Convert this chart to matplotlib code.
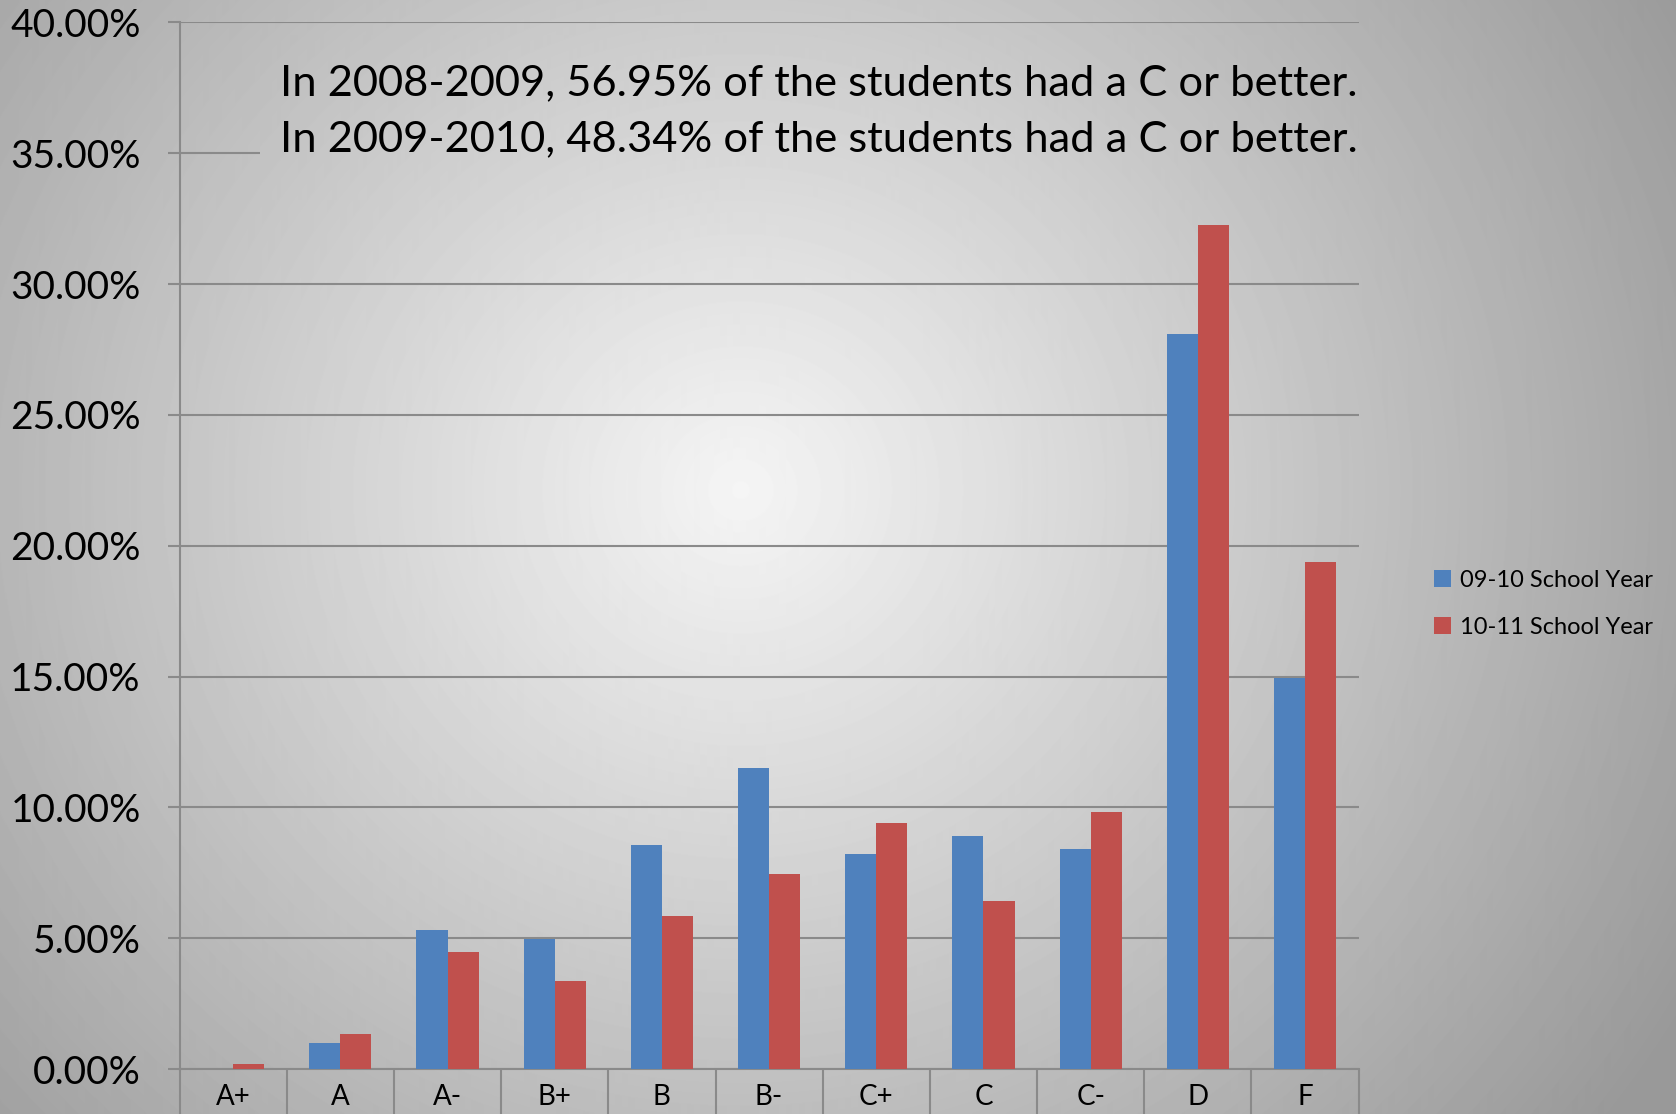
import numpy as np
import matplotlib
matplotlib.use("Agg")
import matplotlib.pyplot as plt
from matplotlib.ticker import FuncFormatter, FixedLocator

plt.rcParams['font.family'] = ['Lato', 'DejaVu Sans']

# Grade distribution (percent of students)
grades = ["A+", "A", "A-", "B+", "B", "B-", "C+", "C", "C-", "D", "F"]
year_0910 = [0.0, 1.0, 5.31, 4.98, 8.58, 11.52, 8.21, 8.91, 8.42, 28.10, 14.95]
year_1011 = [0.19, 1.35, 4.49, 3.35, 5.84, 7.44, 9.40, 6.41, 9.81, 32.27, 19.37]
series_names = ["09-10 School Year", "10-11 School Year"]
note_lines = ["In 2008-2009, 56.95% of the students had a C or better.",
              "In 2009-2010, 48.34% of the students had a C or better."]

W, H = 1676, 1114
fig = plt.figure(figsize=(W / 100, H / 100), dpi=100)

# radial gray gradient background
yy, xx = np.mgrid[0:H, 0:W]
r = np.sqrt(((xx - 740) / 1.0) ** 2 + ((yy - 490) / 0.95) ** 2)
grad = np.clip(0.96 - 0.33 * (r / 1000.0), 0.6, 0.96)

bg = fig.add_axes([0, 0, 1, 1], zorder=-10)
bg.imshow(grad, cmap="gray", vmin=0, vmax=1, extent=[0, 1, 0, 1], aspect="auto")
bg.axis("off")

left, right = 179.6 / W, 1358.6 / W
bottom, top = 1 - 1069 / H, 1 - 22.4 / H
ax = fig.add_axes([left, bottom, right - left, top - bottom])
ax.patch.set_alpha(0)

grid_col = "#8a8a8a"
x = np.arange(len(grades))
bw = 0.29
ax.bar(x - bw / 2, year_0910, bw, color="#4F81BD", label=series_names[0], zorder=3)
ax.bar(x + bw / 2, year_1011, bw, color="#C0504D", label=series_names[1], zorder=3)

ax.set_ylim(0, 40)
ax.set_xlim(-0.5, len(grades) - 0.5)
ax.set_yticks(np.arange(0, 41, 5))
ax.yaxis.set_major_formatter(FuncFormatter(lambda v, p: f"{v:.2f}%"))
ax.yaxis.grid(True, color=grid_col, linewidth=1.5, zorder=0)
ax.tick_params(axis="y", length=9, width=1.5, color=grid_col, labelsize=28, pad=19)

ax.set_xticks(x)
ax.set_xticklabels(grades)
ax.tick_params(axis="x", which="major", length=0, labelsize=20, pad=11)
ax.xaxis.set_minor_locator(FixedLocator(np.arange(-0.5, len(grades), 1)))
ax.tick_params(axis="x", which="minor", length=34, width=1.5, color=grid_col)

for s in ["top", "right"]:
    ax.spines[s].set_visible(False)
for s in ["left", "bottom"]:
    ax.spines[s].set_color(grid_col)
    ax.spines[s].set_linewidth(1.5)

# text box covering gridlines behind the note
bx0, bx1, by0, by1 = 260, 1358, 35, 200
box = fig.add_axes([bx0 / W, 1 - by1 / H, (bx1 - bx0) / W, (by1 - by0) / H], zorder=5)
box.imshow(grad[by0:by1, bx0:bx1], cmap="gray", vmin=0, vmax=1, aspect="auto")
box.axis("off")

fig.text(280 / W, 1 - 64 / H, "\n".join(note_lines), fontsize=31.3, va="top",
         ha="left", linespacing=1.58, zorder=10)

handles, labels = ax.get_legend_handles_labels()
fig.legend(handles, labels, loc="center left", bbox_to_anchor=(1413 / W, 1 - 604 / H),
           frameon=False, fontsize=17, handlelength=0.7, handleheight=0.7,
           handletextpad=0.4, labelspacing=1.1)

fig.savefig("out.png", dpi=100)
